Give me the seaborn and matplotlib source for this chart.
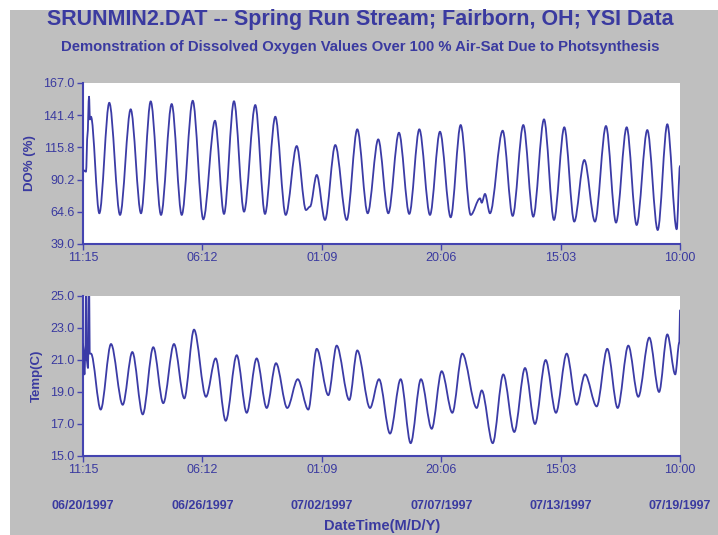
import numpy as np
import pandas as pd
import matplotlib
matplotlib.use("Agg")
import matplotlib.pyplot as plt
import matplotlib.dates as mdates
from matplotlib import font_manager
from matplotlib.patches import Rectangle, PathPatch
from matplotlib.path import Path
import matplotlib.transforms as mtransforms
import seaborn as sns

# ---------------- data ----------------
start_time = "1997-06-20 11:15"
end_time = "1997-07-19 10:00"

# dissolved oxygen: hours since start and value (% air-sat)
do_hours = [0, 3.5, 5.2, 7.0, 8.1, 9.3, 19.0, 30.6, 43.1, 55.5, 67.5, 78.8, 90.8,
            103.2, 114.9, 127.7, 140.0, 153.6, 164.1, 175.7, 187.4, 200.5, 211.8,
            223.8, 235.9, 248.7, 259.5, 264.2, 272.0, 281.6, 293.6, 306.9, 319.2,
            331.3, 343.6, 355.3, 367.7, 379.7, 391.4, 403.8, 415.4, 427.9, 439.5,
            451.2, 462.0, 464.0, 467.8, 473.6, 488.4, 500.0, 512.4, 524.0, 536.5,
            548.1, 560.1, 571.7, 583.4, 595.8, 608.6, 620.3, 632.7, 644.3, 656.7,
            668.8, 680.0, 690.9, 694.75]
do_values = [97.8, 96.5, 125.7, 156.1, 138.0, 140.2, 63.4, 151.3, 62.1, 146.1, 63.4,
             152.4, 62.1, 150.3, 62.1, 152.9, 58.6, 137.0, 62.9, 152.5, 64.7, 149.5,
             62.9, 140.2, 62.1, 116.9, 66.0, 68.7, 93.9, 58.1, 117.7, 58.1, 130.2,
             63.4, 122.2, 63.4, 127.5, 62.9, 130.2, 62.1, 128.3, 60.2, 133.6, 62.1,
             75.3, 71.8, 78.8, 63.4, 129.1, 61.3, 133.6, 60.7, 138.1, 58.1, 131.8,
             56.8, 105.8, 56.8, 132.8, 56.0, 131.8, 54.1, 129.6, 50.1, 134.2, 50.7,
             101.0]

# water temperature: hours since start and value (deg C)
temp_hours = [0, 1.7, 2.9, 3.5, 4.3, 5.8, 7.0, 7.8, 9.3, 20.6, 32.6, 46.2, 57.4,
              69.5, 81.8, 93.4, 105.9, 117.9, 129.2, 143.1, 154.4, 166.1, 178.9,
              190.5, 202.1, 213.8, 224.6, 237.7, 249.9, 262.2, 272.0, 285.5, 295.2,
              309.9, 319.2, 334.0, 344.5, 357.3, 369.7, 381.3, 393.3, 405.8, 417.4,
              429.8, 441.4, 458.2, 464.0, 476.8, 489.1, 501.9, 514.4, 526.0, 538.4,
              550.4, 562.9, 574.5, 584.2, 597.8, 610.1, 622.2, 634.6, 646.2, 659.0,
              670.4, 680.0, 689.2, 694.0, 694.75]
temp_values = [22.0, 20.1, 21.8, 27.0, 21.0, 20.5, 27.0, 21.4, 21.4, 17.9, 22.0,
               18.2, 21.5, 17.6, 21.8, 18.3, 22.0, 18.6, 22.9, 18.7, 21.1, 17.2,
               21.3, 17.7, 21.1, 18.0, 20.8, 18.0, 19.8, 17.9, 21.7, 18.8, 21.9,
               18.5, 21.6, 18.0, 19.8, 16.4, 19.8, 15.8, 19.8, 16.7, 20.3, 17.7,
               21.4, 18.0, 19.1, 15.8, 20.1, 16.5, 20.5, 17.0, 21.0, 17.7, 21.4,
               18.2, 20.1, 18.1, 21.7, 18.0, 21.9, 18.7, 22.4, 19.0, 22.6, 20.1,
               22.1, 24.1]

do_ticks = [39.0, 64.6, 90.2, 115.8, 141.4, 167.0]
temp_ticks = [15.0, 17.0, 19.0, 21.0, 23.0, 25.0]
x_tick_times = ["1997-06-20 11:15", "1997-06-26 06:12", "1997-07-02 01:09",
                "1997-07-07 20:06", "1997-07-13 15:03", "1997-07-19 10:00"]
date_labels = ["06/20/1997", "06/26/1997", "07/02/1997", "07/07/1997",
               "07/13/1997", "07/19/1997"]

# ---------------- build frames ----------------
t0 = pd.Timestamp(start_time)
do_df = pd.DataFrame({"time": t0 + pd.to_timedelta(do_hours, unit="h"),
                      "DO": do_values})
temp_df = pd.DataFrame({"time": t0 + pd.to_timedelta(temp_hours, unit="h"),
                        "Temp": temp_values})
xt = pd.to_datetime(x_tick_times)

# ---------------- style ----------------
sns.set_theme(style="white")
names = {f.name for f in font_manager.fontManager.ttflist}
narrow = "Liberation Sans Narrow" if "Liberation Sans Narrow" in names else "Liberation Sans"
plt.rcParams["font.family"] = ["Liberation Sans", "DejaVu Sans"]

BLUE = "#3a3aa0"
LINE = "#3b3ba6"
GRAY = "#bfbfbf"

W, H = 718, 535
fig = plt.figure(figsize=(W / 100, H / 100), dpi=100)
fig.patch.set_facecolor("white")
fig.patches.append(Rectangle((10 / W, 0), 1 - 10 / W, 1 - 10 / H,
                             transform=fig.transFigure, facecolor=GRAY,
                             edgecolor="none", zorder=-10))

ax1 = fig.add_axes([83 / W, 1 - 244 / H, (680 - 83) / W, (244 - 83) / H])
ax2 = fig.add_axes([83 / W, 1 - 456 / H, (680 - 83) / W, (456 - 296) / H])

sns.lineplot(data=do_df, x="time", y="DO", ax=ax1, estimator=None, sort=False,
             color=LINE, linewidth=1.3)
sns.lineplot(data=temp_df, x="time", y="Temp", ax=ax2, estimator=None, sort=False,
             color=LINE, linewidth=1.3)


def smooth_line(ax):
    """Redraw seaborn's line as a smooth curve through the same data points
    (cubic Bezier segments with flat tangents at each reading)."""
    line = ax.lines[0]
    xy = np.asarray(line.get_xydata(), dtype=float)
    verts = [tuple(xy[0])]
    codes = [Path.MOVETO]
    for (xa, ya), (xb, yb) in zip(xy[:-1], xy[1:]):
        dx = (xb - xa) / 3.0
        verts += [(xa + dx, ya), (xb - dx, yb), (xb, yb)]
        codes += [Path.CURVE4] * 3
    patch = PathPatch(Path(verts, codes), facecolor="none", edgecolor=LINE,
                      linewidth=1.3, transform=ax.transData, zorder=3,
                      capstyle="round", joinstyle="round")
    ax.add_patch(patch)
    line.set_visible(False)


smooth_line(ax1)
smooth_line(ax2)

for ax, ticks, lab, lsize in [(ax1, do_ticks, "DO% (%)", 9.5),
                              (ax2, temp_ticks, "Temp(C)", 9.5)]:
    ax.set_facecolor("white")
    ax.set_xlim(xt[0], xt[-1])
    ax.set_ylim(ticks[0], ticks[-1])
    ax.set_yticks(ticks)
    ax.set_yticklabels([f"{v:.1f}" for v in ticks])
    ax.set_xticks(xt)
    ax.xaxis.set_major_formatter(mdates.DateFormatter("%H:%M"))
    for s in ["top", "right"]:
        ax.spines[s].set_visible(False)
    for s in ["left", "bottom"]:
        ax.spines[s].set_color("#4444b0")
        ax.spines[s].set_linewidth(1.5)
    ax.tick_params(axis="both", which="major", direction="out", length=4,
                   width=1.0, color="#4444b0", labelcolor=BLUE, labelsize=9,
                   pad=2, left=True, bottom=True)
    ax.set_xlabel("")
    ax.set_ylabel(lab, color=BLUE, fontsize=lsize, fontweight="bold", labelpad=5)

# date labels below the lower panel, aligned with the ticks
trans = mtransforms.blended_transform_factory(ax2.transData, ax2.transAxes)
for t, d in zip(xt, date_labels):
    ax2.text(mdates.date2num(t), -(506 - 456) / 160, d, transform=trans,
             ha="center", va="center", color=BLUE, fontsize=9, fontweight="bold")
fig.text(382 / W, 1 - 526 / H, "DateTime(M/D/Y)", ha="center", va="center",
         color=BLUE, fontsize=10.5, fontweight="bold")

fig.text(360 / W, 1 - 20 / H,
         "SRUNMIN2.DAT -- Spring Run Stream; Fairborn, OH; YSI Data",
         ha="center", va="center", color=BLUE, fontsize=15.5, fontweight="bold")
fig.text(360 / W, 1 - 47 / H,
         "Demonstration of Dissolved Oxygen Values Over 100 % Air-Sat Due to Photsynthesis",
         ha="center", va="center", color=BLUE, fontsize=10.7, fontweight="bold",
         family=[narrow, "DejaVu Sans"])

fig.savefig("out.png", dpi=100, facecolor=fig.get_facecolor())
